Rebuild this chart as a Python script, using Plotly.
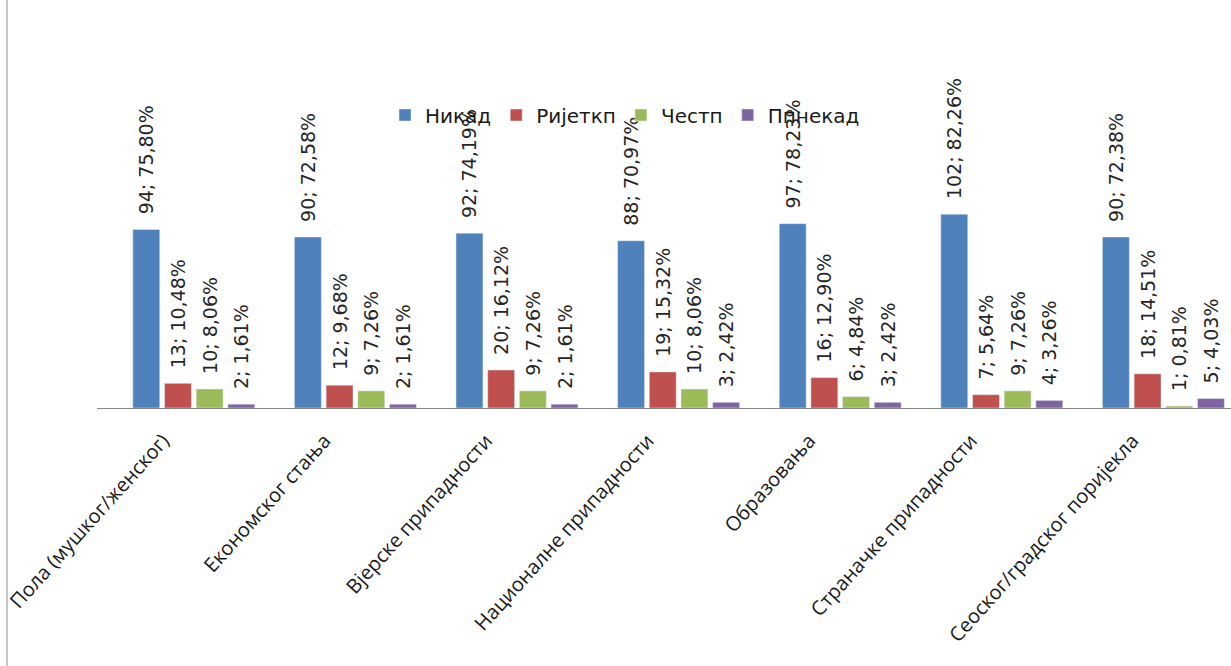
import plotly.graph_objects as go

categories = ["Пола (мушког/женског)", "Економског стања", "Вјерске припадности",
              "Националне припадности", "Образовања", "Страначке припадности",
              "Сеоског/градског поријекла"]
series_names = ["Никад", "Ријеткп", "Честп", "Ппнекад"]
nikad = [94, 90, 92, 88, 97, 102, 90]
rijetko = [13, 12, 20, 19, 16, 7, 18]
cesto = [10, 9, 9, 10, 6, 9, 1]
ponekad = [2, 2, 2, 3, 3, 4, 5]
nikad_pct = ["75,80%", "72,58%", "74,19%", "70,97%", "78,23%", "82,26%", "72,38%"]
rijetko_pct = ["10,48%", "9,68%", "16,12%", "15,32%", "12,90%", "5,64%", "14,51%"]
cesto_pct = ["8,06%", "7,26%", "7,26%", "8,06%", "4,84%", "7,26%", "0,81%"]
ponekad_pct = ["1,61%", "1,61%", "1,61%", "2,42%", "2,42%", "3,26%", "4,03%"]

colors = ["#4F81BD", "#C0504D", "#9BBB59", "#8064A2"]
values = [nikad, rijetko, cesto, ponekad]
pcts = [nikad_pct, rijetko_pct, cesto_pct, ponekad_pct]

W, H = 1231, 666
ml, mt, base = 97, 40, 408
plot_w = W - ml
plot_h = base - mt
px_per_cat = 161.6
px_per_unit = 1.9

fig = go.Figure()
for name, vals, pc, col in zip(series_names, values, pcts, colors):
    labels = ["\u00a0\u00a0" + f"{v}; {p}" for v, p in zip(vals, pc)]
    fig.add_trace(go.Bar(
        x=categories, y=vals, name=name, marker_color=col,
        text=labels, textposition="outside", textangle=-90,
        constraintext="none", cliponaxis=False,
        textfont=dict(family="DejaVu Sans", size=19, color="#262626"),
    ))

x0 = -0.5 - (113 - ml) / px_per_cat
fig.update_layout(
    width=W, height=H,
    margin=dict(l=ml, r=0, t=mt, b=H - base, pad=0),
    paper_bgcolor="white", plot_bgcolor="white",
    barmode="group", bargap=0.216, bargroupgap=0.15,
    xaxis=dict(range=[x0, x0 + plot_w / px_per_cat], showline=True, linecolor="#868686",
               linewidth=1, ticks="", tickangle=-48, automargin=False,
               ticklabelshift=-31, ticklabelstandoff=12,
               tickfont=dict(family="Open Sans", size=20, color="#1a1a1a")),
    yaxis=dict(range=[0, plot_h / px_per_unit], visible=False, showgrid=False),
    legend=dict(orientation="h", x=(385 - ml) / plot_w, xanchor="left",
                y=(base - 115) / plot_h, yanchor="middle",
                font=dict(family="DejaVu Sans", size=20, color="#1a1a1a"),
                bgcolor="rgba(0,0,0,0)"),
    showlegend=True,
    shapes=[dict(type="line", xref="paper", yref="paper",
                 x0=(7 - ml) / plot_w, x1=(7 - ml) / plot_w,
                 y0=(base - H) / plot_h, y1=base / plot_h,
                 line=dict(color="#8c8c8c", width=1))],
)
fig.write_html("out.html", config={"displayModeBar": False},
               post_script="document.body.style.margin='0px';")
